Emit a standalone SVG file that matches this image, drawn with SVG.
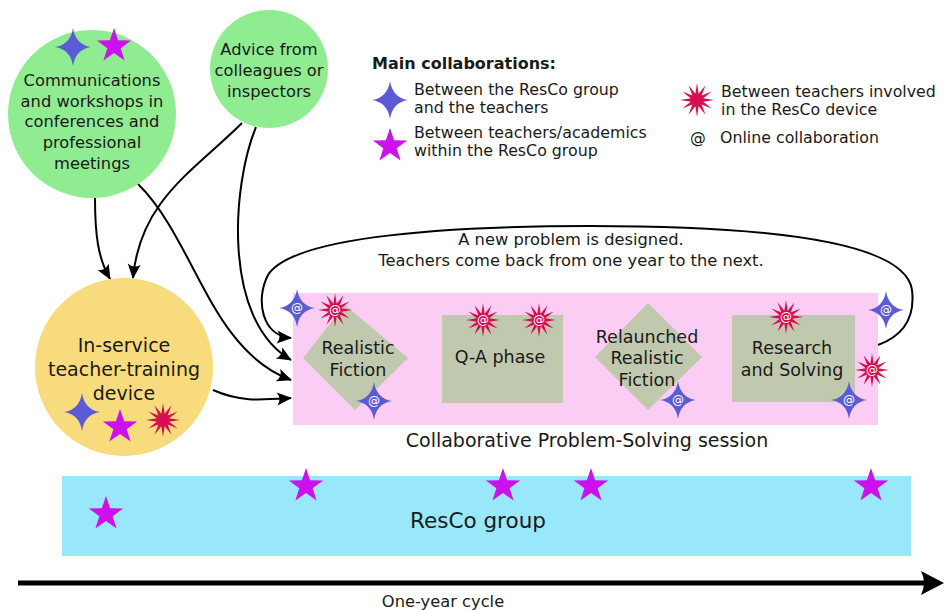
<svg xmlns="http://www.w3.org/2000/svg" width="944" height="610" viewBox="0 0 944 610">
<style>
text{font-family:"DejaVu Sans","Liberation Sans",sans-serif;fill:#1a1a1a;text-anchor:middle}
.t16{font-size:16.3px}
.t17{font-size:17.5px}
.t19{font-size:19px}
.lg{font-size:15.8px;text-anchor:start}
.at{font-size:12px;fill:#fff;text-anchor:middle}
.con{fill:none;stroke:#000;stroke-width:2}
.green{fill:#90ec90}
.gray{fill:#c0c8ae}
</style>
<defs>
<marker id="arr" viewBox="-15 -8 17 16" refX="0" refY="0" markerWidth="17" markerHeight="16" markerUnits="userSpaceOnUse" orient="auto">
<path d="M1,0 L-14,-6.5 Q-9,0 -14,6.5 Z" fill="#000"/>
</marker>
<path id="s4" d="M0,-19 Q2.5,-2.5 18,0 Q2.5,2.5 0,19 Q-2.5,2.5 -18,0 Q-2.5,-2.5 0,-19Z" fill="#5b5bd6"/>
<polygon id="s5" points="0,-18 4.11,-5.66 17.12,-5.56 6.66,2.16 10.58,14.56 0,7 -10.58,14.56 -6.66,2.16 -17.12,-5.56 -4.11,-5.66" fill="#cc11ee"/>
<polygon id="s12" points="0,-17 1.68,-6.28 8.5,-14.72 4.6,-4.6 14.72,-8.5 6.28,-1.68 17,0 6.28,1.68 14.72,8.5 4.6,4.6 8.5,14.72 1.68,6.28 0,17 -1.68,6.28 -8.5,14.72 -4.6,4.6 -14.72,8.5 -6.28,1.68 -17,0 -6.28,-1.68 -14.72,-8.5 -4.6,-4.6 -8.5,-14.72 -1.68,-6.28" fill="#d4104e"/>
</defs>
<rect width="944" height="610" fill="#fff"/>

<g id="resco-group">
<rect x="62" y="476" width="849" height="80" fill="#98e7fa"/>
<text x="478" y="528" style="font-size:21.5px">ResCo group</text>
<use href="#s5" x="106" y="514"/>
<use href="#s5" x="306" y="486"/>
<use href="#s5" x="503" y="486"/>
<use href="#s5" x="591" y="486"/>
<use href="#s5" x="871" y="486"/>
</g>

<g id="timeline">
<line x1="18" y1="583" x2="928" y2="583" stroke="#000" stroke-width="5"/>
<path d="M944,583 L921,571 Q927,583 921,595 Z" fill="#000"/>
<text class="t16" x="443" y="607">One-year cycle</text>
</g>

<g id="session">
<rect x="293" y="293" width="585" height="132" fill="#fbcdf5"/>
<text x="587" y="447" style="font-size:19px">Collaborative Problem-Solving session</text>
</g>

<g id="realistic-fiction">
<polygon class="gray" points="345,305 408,358 355,410 303,358"/>
<text class="t17" x="358" y="354">Realistic</text>
<text class="t17" x="358" y="376">Fiction</text>
</g>
<g id="qa-phase">
<rect class="gray" x="442" y="315" width="121" height="88"/>
<text class="t17" x="500" y="363">Q-A phase</text>
</g>
<g id="relaunched">
<polygon class="gray" points="648,303 702,357 648,410 595,357"/>
<text class="t17" x="647" y="343">Relaunched</text>
<text class="t17" x="647" y="364">Realistic</text>
<text class="t17" x="647" y="386">Fiction</text>
</g>
<g id="research">
<rect class="gray" x="732" y="315" width="123" height="87"/>
<text class="t17" x="792" y="354">Research</text>
<text class="t17" x="792" y="376">and Solving</text>
</g>

<g id="connectors">
<path class="con" d="M95,198 C95,235 98,258 110,279" marker-end="url(#arr)"/>
<path class="con" d="M242,123 C195,170 140,200 133,278" marker-end="url(#arr)"/>
<path class="con" d="M256,127 C232,185 222,320 291,360" marker-end="url(#arr)"/>
<path class="con" d="M138,184 C195,240 210,350 291,380" marker-end="url(#arr)"/>
<path class="con" d="M213,390 C240,402 260,400 291,398" marker-end="url(#arr)"/>
<path class="con" d="M878,345 C905,335 915,315 912,290 C905,240 760,226 590,226 C420,226 290,240 268,275 C255,300 262,336 291,338" marker-end="url(#arr)"/>
<text class="t16" x="571" y="245">A new problem is designed.</text>
<text class="t16" x="571" y="266">Teachers come back from one year to the next.</text>
</g>

<g id="icons">
<use href="#s4" x="297" y="308"/><text class="at" x="297" y="312">@</text>
<use href="#s12" x="335" y="310"/><text class="at" x="335" y="314">@</text>
<use href="#s4" x="374" y="401"/><text class="at" x="374" y="405">@</text>
<use href="#s12" x="483" y="320"/><text class="at" x="483" y="324">@</text>
<use href="#s12" x="539" y="320"/><text class="at" x="539" y="324">@</text>
<use href="#s4" x="678" y="400"/><text class="at" x="678" y="404">@</text>
<use href="#s12" x="786" y="317"/><text class="at" x="786" y="321">@</text>
<use href="#s4" x="886" y="310"/><text class="at" x="886" y="314">@</text>
<use href="#s12" x="872" y="370"/><text class="at" x="872" y="374">@</text>
<use href="#s4" x="849" y="400"/><text class="at" x="849" y="404">@</text>
</g>

<g id="communications">
<circle class="green" cx="92" cy="114" r="84"/>
<use href="#s4" x="73" y="47"/>
<use href="#s5" x="114" y="46"/>
<text class="t16" x="92" y="86">Communications</text>
<text class="t16" x="92" y="107">and workshops in</text>
<text class="t16" x="92" y="127">conferences and</text>
<text class="t16" x="92" y="148">professional</text>
<text class="t16" x="92" y="169">meetings</text>
</g>

<g id="advice">
<circle class="green" cx="269" cy="69" r="59"/>
<text class="t16" x="269" y="55">Advice from</text>
<text class="t16" x="269" y="76">colleagues or</text>
<text class="t16" x="269" y="97">inspectors</text>
</g>

<g id="inservice">
<circle cx="124" cy="367" r="89" fill="#f8db7d"/>
<text class="t19" x="124" y="352">In-service</text>
<text class="t19" x="124" y="376">teacher-training</text>
<text class="t19" x="124" y="400">device</text>
<use href="#s4" x="82" y="412"/>
<use href="#s5" x="120" y="427"/>
<use href="#s12" x="163" y="420"/>
</g>

<g id="legend">
<text x="372" y="69" style="font-size:16px;font-weight:bold;text-anchor:start">Main collaborations:</text>
<use href="#s4" x="390" y="100"/>
<text class="lg" x="414" y="95">Between the ResCo group</text>
<text class="lg" x="414" y="113">and the teachers</text>
<use href="#s5" x="390" y="146"/>
<text class="lg" x="414" y="138">Between teachers/academics</text>
<text class="lg" x="414" y="156">within the ResCo group</text>
<use href="#s12" x="697" y="100"/>
<text class="lg" x="721" y="97">Between teachers involved</text>
<text class="lg" x="721" y="115">in the ResCo device</text>
<text class="lg" x="690" y="143">@</text>
<text class="lg" x="720" y="143">Online collaboration</text>
</g>
</svg>
